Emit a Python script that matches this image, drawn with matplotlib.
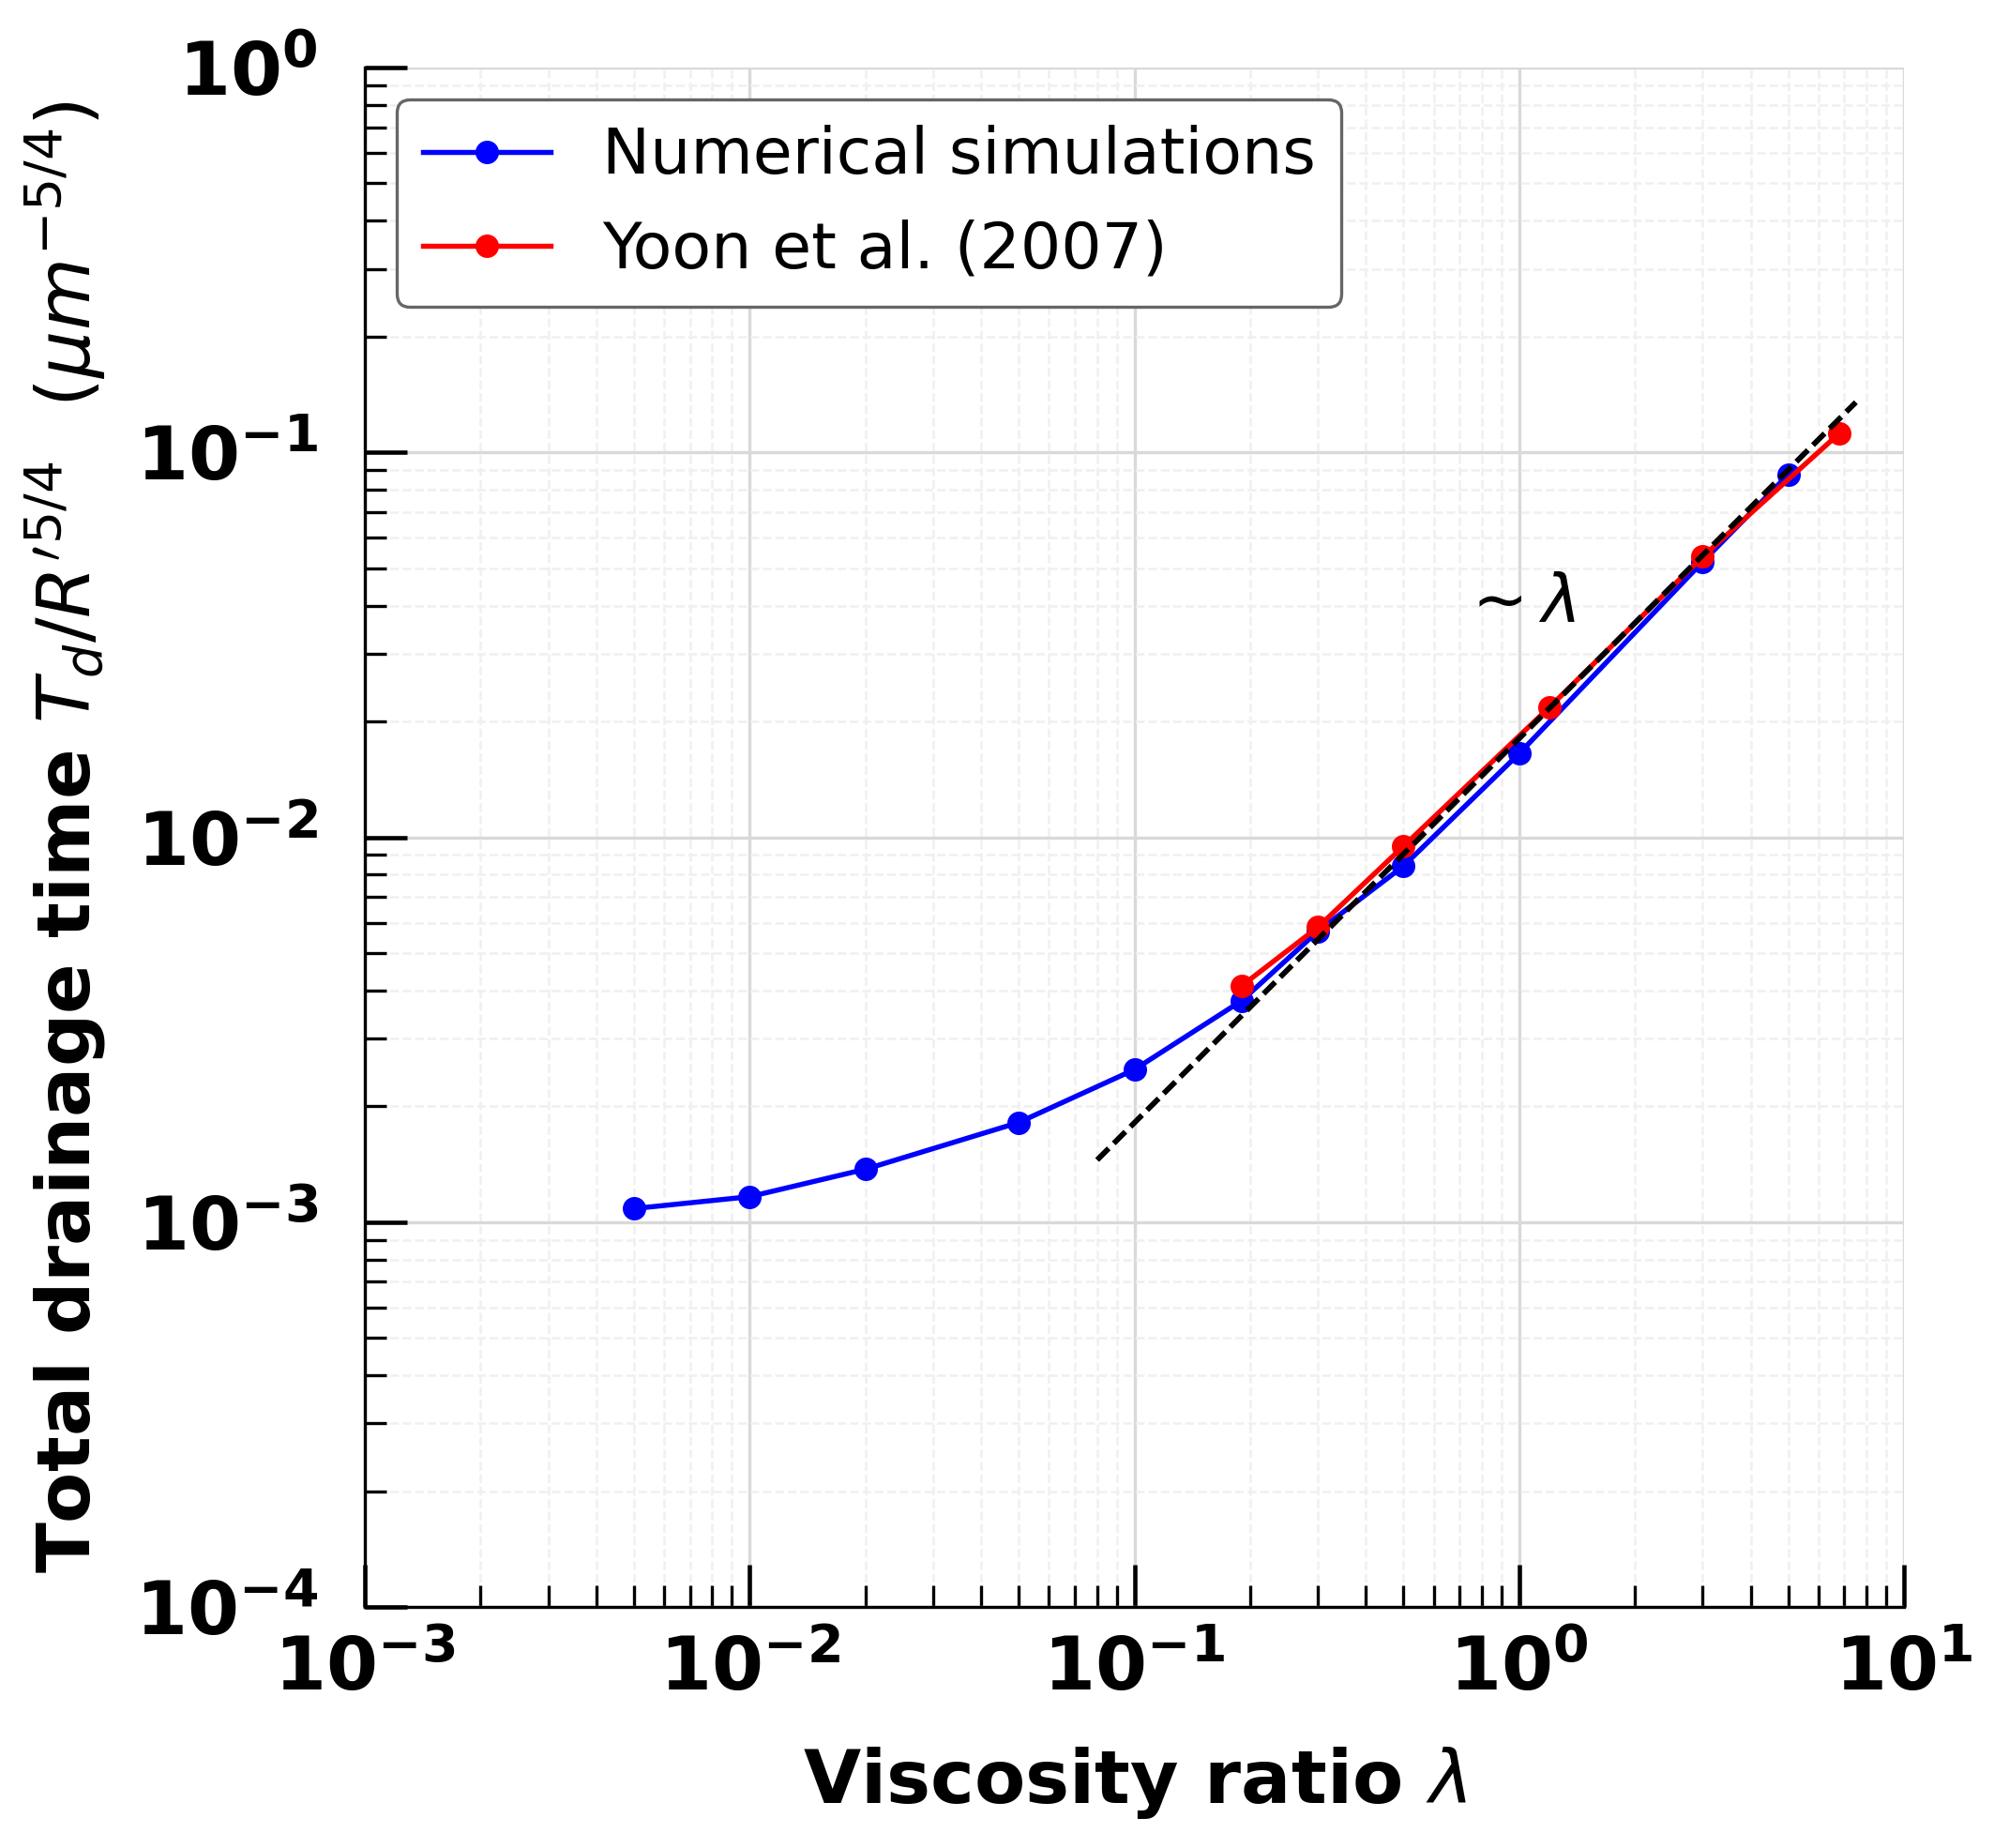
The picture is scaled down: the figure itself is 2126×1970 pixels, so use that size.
import matplotlib
matplotlib.use("Agg")
import matplotlib.pyplot as plt

# ---- data ----
num_x = [0.005, 0.01, 0.02, 0.05, 0.1, 0.19, 0.3, 0.5, 1.0, 3.0, 5.0]
num_y = [1.084e-3, 1.164e-3, 1.372e-3, 1.814e-3, 2.49e-3, 3.76e-3, 5.7e-3, 8.41e-3, 0.0165, 0.052, 0.0875]
yoon_x = [0.19, 0.3, 0.5, 1.2, 3.0, 6.8]
yoon_y = [4.11e-3, 5.84e-3, 9.47e-3, 0.0218, 0.0536, 0.1122]
fit_x = [0.08, 7.5]
fit_y = [1.45e-3, 0.135]

xticks = [1e-3, 1e-2, 1e-1, 1e0, 1e1]
xticklabels = [r'$\mathdefault{10^{-3}}$', r'$\mathdefault{10^{-2}}$', r'$\mathdefault{10^{-1}}$',
               r'$\mathdefault{10^{0}}$', r'$\mathdefault{10^{1}}$']
yticks = [1e-4, 1e-3, 1e-2, 1e-1, 1e0]
yticklabels = [r'$\mathdefault{10^{-4}}$', r'$\mathdefault{10^{-3}}$', r'$\mathdefault{10^{-2}}$',
               r'$\mathdefault{10^{-1}}$', r'$\mathdefault{10^{0}}$']

W, H, DPI = 2126, 1970, 300
fig = plt.figure(figsize=(W / DPI, H / DPI), dpi=DPI)
ax = fig.add_axes([389 / W, 1 - 1713 / H, 1641 / W, 1641 / H])

ax.set_xscale('log')
ax.set_yscale('log')
ax.set_xlim(1e-3, 1e1)
ax.set_ylim(1e-4, 1e0)

ax.plot(num_x, num_y, '-o', color='blue', lw=1.3, ms=5, label='Numerical simulations', zorder=3)
ax.plot(yoon_x, yoon_y, '-o', color='red', lw=1.3, ms=5, label='Yoon et al. (2007)', zorder=4)
ax.plot(fit_x, fit_y, color='black', lw=1.4, ls=(0, (3.0, 1.3)), zorder=5)

ax.text(0.70, 0.0362, r'$\sim\lambda$', fontsize=17)

ax.set_xticks(xticks, xticklabels, fontsize=19, fontweight='bold')
ax.set_yticks(yticks, yticklabels, fontsize=19, fontweight='bold')

ax.grid(which='major', color='#d9d9d9', lw=0.8, ls='-')
ax.grid(which='minor', color='#f0f0f0', lw=0.6, ls='--')
ax.set_axisbelow(True)

for s in ['top', 'right']:
    ax.spines[s].set_visible(False)
for s in ['left', 'bottom']:
    ax.spines[s].set_linewidth(0.8)

ax.tick_params(which='major', direction='in', length=10.8, width=1.1)
ax.tick_params(which='minor', direction='in', length=5.6, width=0.8)
ax.tick_params(axis='x', which='major', pad=7)
ax.tick_params(axis='y', which='major', pad=12)

ax.set_xlabel(r'Viscosity ratio $\lambda$', fontsize=19, fontweight='bold', labelpad=10)
ax.set_ylabel(r"Total drainage time $T_d/R'^{5/4}$  $(\mu m^{-5/4})$", fontsize=19,
              fontweight='bold', labelpad=7)

leg = ax.legend(loc='upper left', fontsize=16.4, framealpha=1, edgecolor='0.4', numpoints=1)
leg.get_frame().set_linewidth(0.8)

fig.savefig('out.png', dpi=DPI)
